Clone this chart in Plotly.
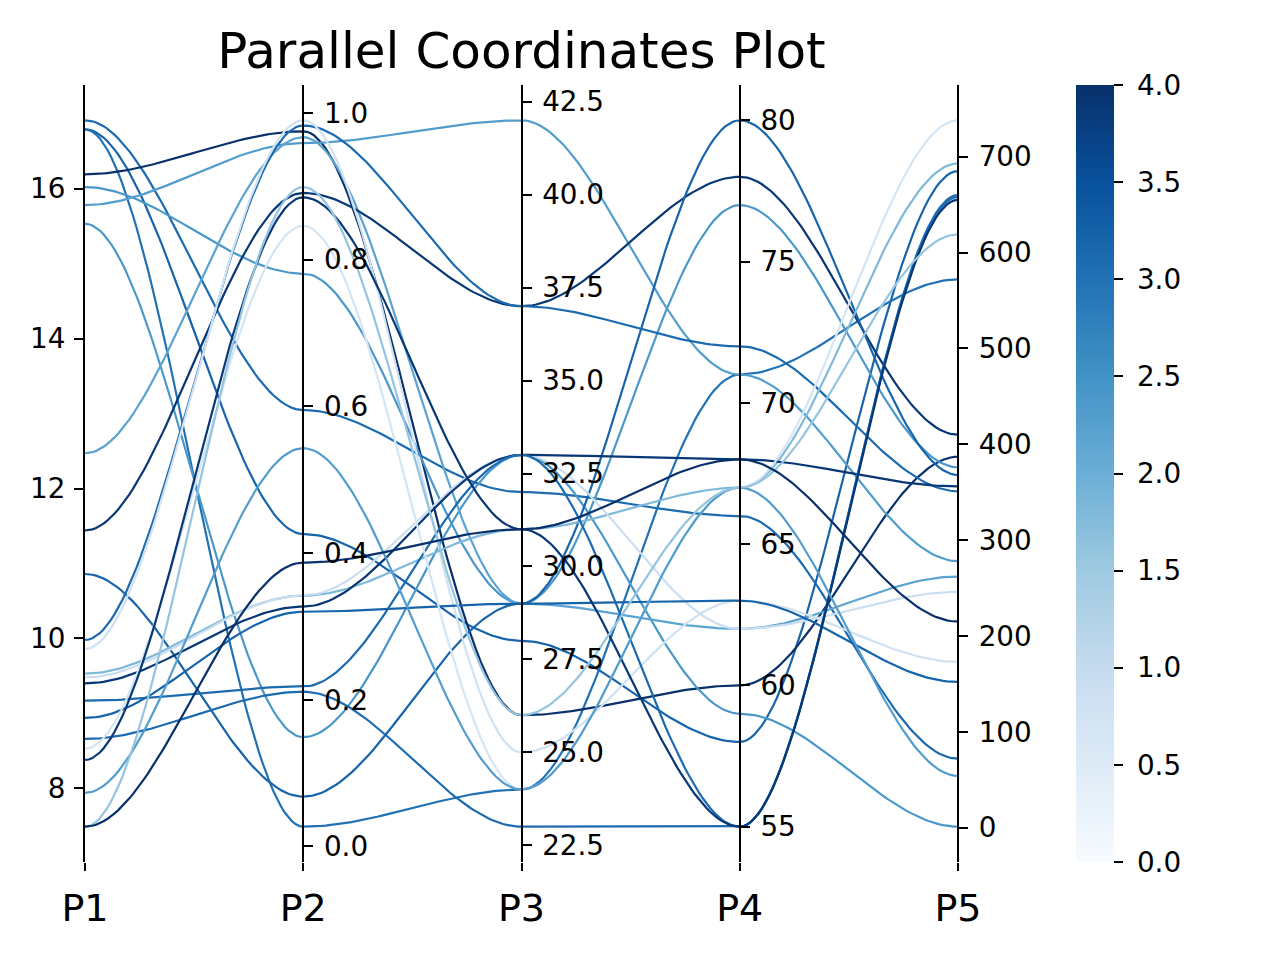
import numpy as np
import plotly.graph_objects as go
from plotly.colors import sample_colorscale

axis_names = ["P1", "P2", "P3", "P4", "P5"]

p1 = [16.91, 16.79, 16.79, 16.19, 16.02, 15.78, 15.53, 12.47, 11.44, 10.86, 9.98, 9.86,
      9.53, 9.48, 9.40, 9.17, 8.94, 8.66, 8.53, 8.38, 7.94, 7.49, 7.49]
p2 = [0.595, 0.426, 0.027, 0.975, 0.781, 0.959, 0.149, 0.967, 0.891, 0.068, 0.983, 0.990,
      0.342, 0.342, 0.327, 0.218, 0.320, 0.211, 0.846, 0.885, 0.543, 0.899, 0.387]
p3 = [32, 28, 24, 26, 29, 42, 33, 29, 37, 29, 37, 25,
      31, 33, 33, 33, 29, 23, 24, 31, 24, 26, 31]
p4 = [66, 58, 71, 60, 77, 71, 59, 62, 78, 80, 72, 63,
      67, 62, 68, 55, 63, 55, 67, 55, 67, 67, 68]
p5 = [72, 685, 572, 387, 376, 278, 1, 262, 410, 368, 351, 173,
      693, 246, 356, 660, 152, 658, 738, 655, 54, 619, 215]
color_value = [3.1, 3.2, 3.0, 4.0, 2.4, 2.3, 2.4, 2.2, 3.9, 3.2, 3.1, 0.8,
               1.8, 0.9, 3.9, 3.1, 3.2, 3.1, 0.7, 3.9, 2.3, 1.6, 4.0]

blues = ["#f7fbff", "#deebf7", "#c6dbef", "#9ecae1", "#6baed6",
         "#4292c6", "#2171b5", "#08519c", "#08306b"]
colorscale = [[i / (len(blues) - 1), c] for i, c in enumerate(blues)]
cmin, cmax = 0.0, 4.0
cbar_ticks = [0, 0.5, 1, 1.5, 2, 2.5, 3, 3.5, 4]

FONT = "DejaVu Sans"
TICK_SIZE = 27.8
LINE_W = 2.2

cols = [np.array(p1, float), np.array(p2, float), np.array(p3, float),
        np.array(p4, float), np.array(p5, float)]
ranges = []
for c in cols:
    lo, hi = c.min(), c.max()
    d = hi - lo
    ranges.append((lo - 0.05 * d, hi + 0.05 * d))

h_lo, h_hi = ranges[0]


def to_host(v, k):
    lo, hi = ranges[k]
    return (v - lo) / (hi - lo) * (h_hi - h_lo) + h_lo


fig = go.Figure()

n_rows = len(p1)
tt = np.linspace(0, 1, 60)
smooth = 3 * tt ** 2 - 2 * tt ** 3
for r in range(n_rows):
    ys = [to_host(cols[k][r], k) for k in range(5)]
    xs_all, ys_all = [], []
    for i in range(4):
        xs_all.extend(list(i + tt))
        ys_all.extend(list(ys[i] + (ys[i + 1] - ys[i]) * smooth))
    col = sample_colorscale(colorscale, [(color_value[r] - cmin) / (cmax - cmin)])[0]
    fig.add_trace(go.Scatter(x=xs_all, y=ys_all, mode="lines",
                             line=dict(color=col, width=LINE_W),
                             hoverinfo="skip", showlegend=False))

# invisible anchors for the extra axes
for k in range(1, 5):
    lo, hi = ranges[k]
    fig.add_trace(go.Scatter(x=[k], y=[(lo + hi) / 2], mode="markers",
                             marker=dict(size=1, opacity=0),
                             yaxis="y%d" % (k + 1), hoverinfo="skip",
                             showlegend=False))

# colour bar
fig.add_trace(go.Scatter(
    x=[0, 0], y=[(h_lo + h_hi) / 2] * 2, mode="markers",
    marker=dict(size=0.1, opacity=0, color=[cmin, cmax], colorscale=colorscale,
                cmin=cmin, cmax=cmax, showscale=True,
                colorbar=dict(x=(1076 - 85) / 873, xanchor="left", xpad=0,
                              y=1, yanchor="top", ypad=0,
                              lenmode="pixels", len=777, thickness=38,
                              outlinewidth=0, ticks="outside", ticklen=9,
                              tickwidth=2.2, tickcolor="black",
                              tickvals=cbar_ticks,
                              ticktext=["\u00a0%.1f" % v for v in cbar_ticks],
                              tickfont=dict(family=FONT, size=TICK_SIZE, color="black"))),
    hoverinfo="skip", showlegend=False))

axis_common = dict(showgrid=False, zeroline=False, showline=True, linecolor="black",
                   linewidth=2.2, ticks="outside", ticklen=9, tickwidth=2.2,
                   tickcolor="black",
                   tickfont=dict(family=FONT, size=TICK_SIZE, color="black"))

dticks = [2, 0.2, 2.5, 5, 100]
fmts = ["d", ".1f", ".1f", "d", "d"]

layout = dict(
    width=1280, height=960,
    margin=dict(l=85, r=322, t=85, b=98),
    paper_bgcolor="white", plot_bgcolor="white",
    title=dict(text="Parallel Coordinates Plot", x=(85 + 958) / 2 / 1280,
               xanchor="center", y=1 - 50 / 960, yanchor="middle",
               font=dict(family=FONT, size=50, color="black")),
    xaxis=dict(range=[0, 4], tickvals=[0, 1, 2, 3, 4], ticktext=axis_names,
               showgrid=False, zeroline=False, showline=False, ticks="outside",
               ticklen=8, tickwidth=2.2, tickcolor="black", ticklabelstandoff=4,
               tickfont=dict(family=FONT, size=38, color="black")),
    yaxis=dict(range=list(ranges[0]), tick0=0, dtick=dticks[0], tickformat=fmts[0],
               ticklabelstandoff=3, **axis_common),
    showlegend=False,
)
for k in range(1, 5):
    layout["yaxis%d" % (k + 1)] = dict(
        range=list(ranges[k]), tick0=0, dtick=dticks[k], tickformat=fmts[k],
        overlaying="y", anchor="free", position=k / 4, side="right",
        ticklabelstandoff=5, **axis_common)

fig.update_layout(**layout)
fig.write_html("out.html")
